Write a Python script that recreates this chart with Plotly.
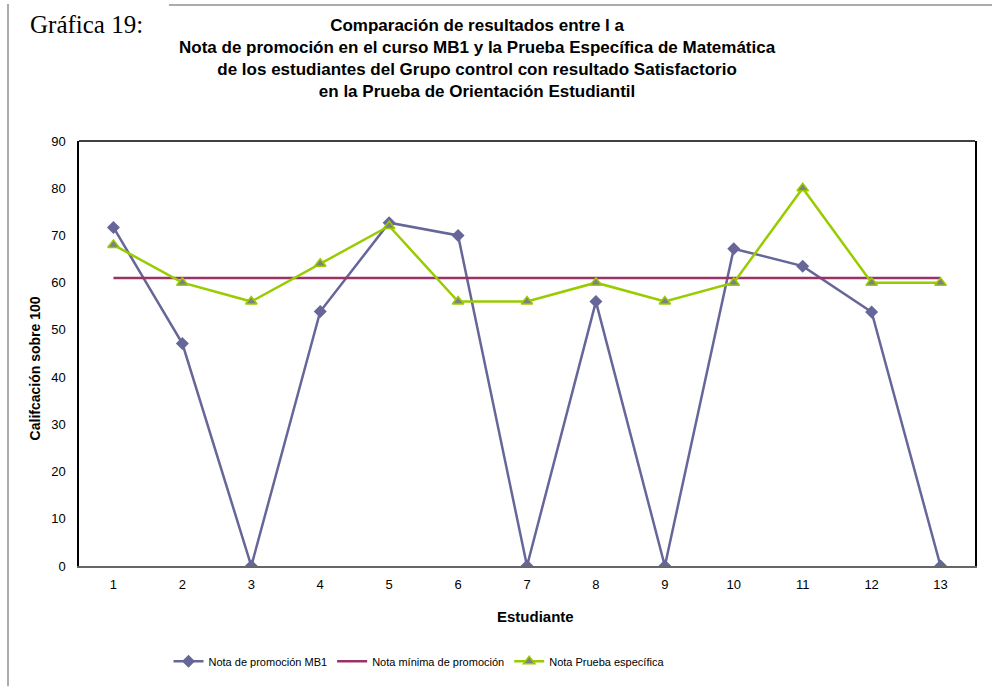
import plotly.graph_objects as go

estudiantes = [str(i) for i in range(1, 14)]
nota_mb1 = [71.7, 47.1, 0, 53.9, 72.7, 70.0, 0, 56.0, 0, 67.2, 63.5, 53.8, 0]
nota_minima = [61] * 13
nota_prueba = [68, 60, 56, 64, 72, 56, 56, 60, 56, 60, 80, 60, 60]
y_ticks = list(range(0, 91, 10))
title_lines = [
    "Comparación de resultados entre l a",
    "Nota de promoción en el curso MB1 y la Prueba Específica de Matemática",
    "de los estudiantes del Grupo control con resultado Satisfactorio",
    "en la Prueba de Orientación Estudiantil",
]

fig = go.Figure()
fig.add_trace(go.Scatter(
    x=estudiantes, y=nota_mb1, name="Nota de promoción MB1", mode="lines+markers",
    line=dict(color="#666699", width=2.5),
    marker=dict(symbol="diamond", size=10, color="#666699")))
fig.add_trace(go.Scatter(
    x=estudiantes, y=nota_minima, name="Nota mínima de promoción", mode="lines",
    line=dict(color="#993366", width=2.5)))
fig.add_trace(go.Scatter(
    x=estudiantes, y=nota_prueba, name="Nota Prueba específica", mode="lines+markers",
    line=dict(color="#99CC00", width=2.5),
    marker=dict(symbol="triangle-up", size=10, color="#808080",
                line=dict(color="#99CC00", width=1.5))))

W, H = 992, 688
L, R, T, B = 79, 975, 141, 569
pw, ph = R - L, B - T
def px(x): return (x - L) / pw
def py(y): return (B - y) / ph

fig.update_layout(
    width=W, height=H,
    margin=dict(l=L, r=W - R, t=T, b=H - B),
    paper_bgcolor="white", plot_bgcolor="white",
    font=dict(family="Liberation Sans, Arial, sans-serif", color="black", size=13),
    showlegend=True,
    legend=dict(orientation="h", x=px(419), y=py(665), xanchor="center", yanchor="middle",
                font=dict(size=11), itemwidth=30, tracegroupgap=0),
    xaxis=dict(type="category", range=[-0.5, 12.5], showgrid=False, zeroline=False,
               showline=True, linecolor="#666666", linewidth=1.5, ticks="",
               tickfont=dict(size=13), ticklabelstandoff=6),
    yaxis=dict(range=[0, 90], tickvals=y_ticks, showgrid=False, zeroline=False,
               showline=True, linecolor="black", linewidth=1.5, mirror=True, ticks="",
               tickfont=dict(size=13), ticklabelstandoff=9),
)

fig.add_shape(type="line", xref="paper", yref="paper", x0=0, x1=1, y0=1, y1=1,
              line=dict(color="black", width=1.5))
# outer frame lines
fig.add_shape(type="line", xref="paper", yref="paper", x0=px(8), x1=px(8), y0=py(3), y1=py(690),
              line=dict(color="#909090", width=1.5))
fig.add_shape(type="line", xref="paper", yref="paper", x0=px(169), x1=px(995), y0=py(4), y1=py(4),
              line=dict(color="#909090", width=1.5))

fig.add_annotation(xref="paper", yref="paper", x=px(28), y=py(24), xanchor="left", yanchor="middle",
                   text="Gráfica 19:", showarrow=False,
                   font=dict(family="Liberation Serif, Times New Roman, serif", size=25))
fig.add_annotation(xref="paper", yref="paper", x=px(477), y=py(58), xanchor="center", yanchor="middle",
                   text="<br>".join("<b>" + s + "</b>" for s in title_lines),
                   showarrow=False, align="center", font=dict(size=17))
fig.add_annotation(xref="paper", yref="paper", x=px(35), y=py(370), xanchor="center", yanchor="middle",
                   text="<b>Califcación sobre 100</b>", textangle=-90, showarrow=False,
                   font=dict(size=14))
fig.add_annotation(xref="paper", yref="paper", x=px(535), y=py(620), xanchor="center", yanchor="middle",
                   text="<b>Estudiante</b>", showarrow=False, font=dict(size=15))

fig.write_html("out.html", config={"displayModeBar": False},
               post_script="document.body.style.margin='0';")
